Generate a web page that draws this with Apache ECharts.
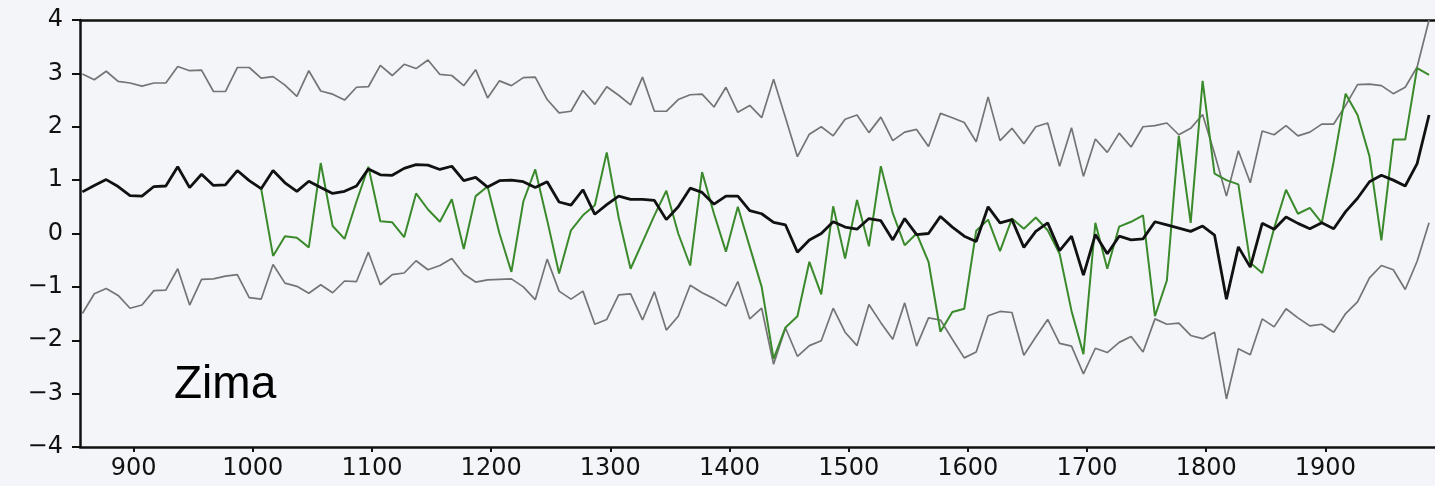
<!DOCTYPE html>
<html>
<head>
<meta charset="utf-8">
<script src="https://cdn.jsdelivr.net/npm/echarts@6/dist/echarts.min.js"></script>
<style>
  html, body { margin: 0; padding: 0; background: #f4f5f9; }
  #chart { width: 1435px; height: 486px; }
</style>
</head>
<body>
<div id="chart"></div>
<script>
// Decadal sample years shared by the envelope and the mean curve
const years = [
  857, 867, 877, 887, 897, 907, 917, 927, 937, 947,
  957, 967, 977, 987, 997, 1007, 1017, 1027, 1037, 1047,
  1057, 1067, 1077, 1087, 1097, 1107, 1117, 1127, 1137, 1147,
  1157, 1167, 1177, 1187, 1197, 1207, 1217, 1227, 1237, 1247,
  1257, 1267, 1277, 1287, 1297, 1307, 1317, 1327, 1337, 1347,
  1357, 1367, 1377, 1387, 1397, 1407, 1417, 1427, 1437, 1447,
  1457, 1467, 1477, 1487, 1497, 1507, 1517, 1527, 1537, 1547,
  1557, 1567, 1577, 1587, 1597, 1607, 1617, 1627, 1637, 1647,
  1657, 1667, 1677, 1687, 1697, 1707, 1717, 1727, 1737, 1747,
  1757, 1767, 1777, 1787, 1797, 1807, 1817, 1827, 1837, 1847,
  1857, 1867, 1877, 1887, 1897, 1907, 1917, 1927, 1937, 1947,
  1957, 1967, 1977, 1987
];

// Upper envelope (thin grey)
const upperBound = [
  2.99, 2.88, 3.04, 2.85, 2.82, 2.76, 2.82, 2.82, 3.13, 3.05,
  3.06, 2.66, 2.66, 3.11, 3.11, 2.91, 2.94, 2.78, 2.57, 3.05,
  2.67, 2.61, 2.50, 2.74, 2.75, 3.15, 2.96, 3.17, 3.09, 3.25,
  2.98, 2.96, 2.77, 3.07, 2.54, 2.86, 2.77, 2.92, 2.93, 2.51,
  2.26, 2.29, 2.68, 2.42, 2.75, 2.59, 2.41, 2.93, 2.29, 2.29,
  2.51, 2.60, 2.61, 2.37, 2.74, 2.27, 2.40, 2.17, 2.89, 2.17,
  1.44, 1.86, 2.00, 1.83, 2.14, 2.22, 1.89, 2.18, 1.74, 1.90,
  1.95, 1.63, 2.25, 2.17, 2.08, 1.72, 2.56, 1.74, 1.97, 1.68,
  2.00, 2.07, 1.26, 1.98, 1.07, 1.77, 1.52, 1.88, 1.62, 2.00,
  2.02, 2.07, 1.85, 1.97, 2.23, 1.50, 0.70, 1.55, 0.95, 1.92,
  1.85, 2.02, 1.83, 1.90, 2.05, 2.05, 2.40, 2.79, 2.80, 2.77,
  2.62, 2.74, 3.12, 4.00
];

// Lower envelope (thin grey)
const lowerBound = [
  -1.50, -1.13, -1.03, -1.16, -1.40, -1.34, -1.07, -1.06, -0.66, -1.34,
  -0.86, -0.85, -0.80, -0.77, -1.20, -1.23, -0.58, -0.93, -0.99, -1.12,
  -0.96, -1.11, -0.89, -0.90, -0.35, -0.96, -0.77, -0.74, -0.51, -0.68,
  -0.60, -0.47, -0.76, -0.91, -0.87, -0.86, -0.85, -1.00, -1.24, -0.48,
  -1.08, -1.23, -1.08, -1.70, -1.61, -1.15, -1.13, -1.62, -1.09, -1.81,
  -1.55, -0.97, -1.11, -1.22, -1.36, -0.90, -1.60, -1.40, -2.45, -1.77,
  -2.30, -2.10, -2.01, -1.40, -1.85, -2.10, -1.33, -1.67, -1.98, -1.30,
  -2.11, -1.58, -1.62, -1.98, -2.33, -2.22, -1.54, -1.46, -1.48, -2.28,
  -1.94, -1.61, -2.06, -2.11, -2.63, -2.15, -2.23, -2.04, -1.93, -2.22,
  -1.60, -1.70, -1.68, -1.91, -1.97, -1.85, -3.10, -2.16, -2.27, -1.60,
  -1.75, -1.41, -1.58, -1.73, -1.70, -1.85, -1.50, -1.28, -0.83, -0.60,
  -0.68, -1.05, -0.52, 0.20
];

// Reconstructed mean (thick black)
const meanIndex = [
  0.78, 0.90, 1.01, 0.88, 0.71, 0.70, 0.88, 0.89, 1.25, 0.86,
  1.11, 0.90, 0.91, 1.18, 0.99, 0.84, 1.18, 0.95, 0.79, 0.98,
  0.86, 0.75, 0.79, 0.89, 1.21, 1.10, 1.09, 1.22, 1.29, 1.28,
  1.20, 1.26, 0.99, 1.05, 0.87, 0.99, 1.00, 0.97, 0.86, 0.97,
  0.59, 0.53, 0.82, 0.36, 0.54, 0.70, 0.64, 0.64, 0.62, 0.26,
  0.50, 0.85, 0.77, 0.55, 0.70, 0.70, 0.43, 0.37, 0.21, 0.16,
  -0.35, -0.12, 0.00, 0.22, 0.12, 0.08, 0.28, 0.24, -0.12, 0.28,
  -0.02, 0.00, 0.32, 0.12, -0.05, -0.15, 0.50, 0.20, 0.26, -0.26,
  0.04, 0.20, -0.32, -0.05, -0.78, -0.02, -0.38, -0.05, -0.12, -0.10,
  0.22, 0.16, 0.10, 0.04, 0.14, -0.03, -1.23, -0.25, -0.63, 0.19,
  0.08, 0.31, 0.19, 0.09, 0.20, 0.09, 0.41, 0.66, 0.97, 1.09,
  1.00, 0.89, 1.31, 2.22
];

// Documentary series (green), begins with the 1007 sample
const observedYears = years.slice(15);
const observed = [
  0.84, -0.42, -0.05, -0.08, -0.26,
  1.32, 0.14, -0.10, 0.60, 1.25, 0.23, 0.21, -0.07, 0.75, 0.45,
  0.22, 0.64, -0.29, 0.70, 0.88, 0.00, -0.72, 0.60, 1.20, 0.25,
  -0.75, 0.06, 0.34, 0.53, 1.52, 0.30, -0.66, -0.16, 0.34, 0.80,
  0.00, -0.60, 1.15, 0.37, -0.34, 0.50, -0.25, -1.00, -2.35, -1.76,
  -1.55, -0.53, -1.14, 0.51, -0.47, 0.63, -0.24, 1.26, 0.38, -0.22,
  0.00, -0.53, -1.84, -1.47, -1.41, 0.05, 0.26, -0.33, 0.28, 0.09,
  0.30, 0.06, -0.38, -1.45, -2.26, 0.20, -0.66, 0.13, 0.22, 0.34,
  -1.55, -0.88, 1.83, 0.20, 2.86, 1.12, 1.00, 0.92, -0.55, -0.74,
  0.10, 0.82, 0.37, 0.48, 0.20, 1.35, 2.62, 2.22, 1.45, -0.13,
  1.76, 1.76, 3.10, 2.97
];

const xTickYears = [900, 1000, 1100, 1200, 1300, 1400, 1500, 1600, 1700, 1800, 1900];
const seasonLabel = 'Zima';

const pairs = (xs, ys) => xs.map((x, i) => [x, ys[i]]);

const chart = echarts.init(document.getElementById('chart'), null, { renderer: 'canvas' });

const xRange = { min: 855, max: 1992 };

const tickFont = '"DejaVu Sans", Verdana, sans-serif';

chart.setOption({
  backgroundColor: '#f4f5f9',
  animation: false,
  grid: { left: 80, right: 0, top: 20, bottom: 39 },
  xAxis: [
    {
      type: 'value',
      min: xRange.min,
      max: xRange.max,
      axisLine: { show: true, onZero: false, lineStyle: { color: '#111', width: 2.5 } },
      axisTick: { show: true, inside: false, length: 5, customValues: xTickYears,
                  lineStyle: { color: '#111', width: 2 } },
      axisLabel: {
        customValues: xTickYears, margin: 10,
        formatter: v => String(v),
        color: '#111', fontFamily: tickFont, fontSize: 24
      },
      splitLine: { show: false }
    },
    {
      type: 'value',
      position: 'top',
      min: xRange.min,
      max: xRange.max,
      axisLine: { show: true, onZero: false, lineStyle: { color: '#111', width: 2.5 } },
      axisTick: { show: false },
      axisLabel: { show: false },
      splitLine: { show: false }
    }
  ],
  yAxis: {
    type: 'value',
    min: -4,
    max: 4,
    interval: 1,
    axisLine: { show: true, onZero: false, lineStyle: { color: '#111', width: 2.5 } },
    axisTick: { show: true, inside: false, length: 8, lineStyle: { color: '#111', width: 2 } },
    axisLabel: {
      margin: 17,
      formatter: v => String(v).replace('-', '\u2212'),
      color: '#111', fontFamily: tickFont, fontSize: 24
    },
    splitLine: { show: false }
  },
  series: [
    {
      type: 'line', name: 'upper', data: pairs(years, upperBound),
      symbol: 'none', lineStyle: { color: '#747474', width: 1.7 }, z: 2
    },
    {
      type: 'line', name: 'lower', data: pairs(years, lowerBound),
      symbol: 'none', lineStyle: { color: '#747474', width: 1.7 }, z: 2
    },
    {
      type: 'line', name: 'observed', data: pairs(observedYears, observed),
      symbol: 'none', lineStyle: { color: '#3a8a2c', width: 2 }, z: 3
    },
    {
      type: 'line', name: 'mean', data: pairs(years, meanIndex),
      symbol: 'none', lineStyle: { color: '#111', width: 2.8 }, z: 4
    }
  ],
  graphic: [
    {
      type: 'text',
      left: 174,
      top: 362,
      style: { text: seasonLabel, font: '46px "Liberation Sans", Arial, sans-serif', fill: '#000' },
      z: 10
    }
  ]
});
</script>
</body>
</html>
